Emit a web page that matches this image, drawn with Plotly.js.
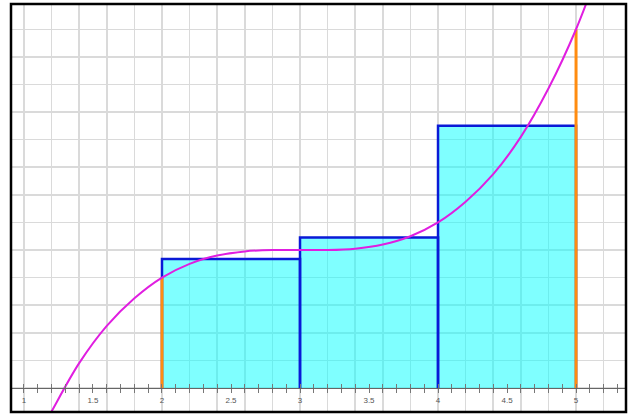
<!DOCTYPE html>
<html>
<head>
<meta charset="utf-8">
<script src="https://cdn.plot.ly/plotly-3.0.1.min.js"></script>
<style>html,body{margin:0;padding:0;background:#fff;}#chart{width:628px;height:415px;}</style>
</head>
<body>
<div id="chart"></div>
<script>
// Curve samples
const curveX = [1.15, 1.2, 1.4, 1.6, 1.8, 2.0, 2.2, 2.4, 2.6, 2.8, 3.0, 3.2, 3.4, 3.6, 3.8, 4.0, 4.2, 4.4, 4.6, 4.8, 5.0, 5.2];
const curveY = [-0.26, -0.17, 0.18, 0.45, 0.65, 0.80, 0.90, 0.96, 0.99, 1.00, 1.00, 1.00, 1.01, 1.04, 1.10, 1.20, 1.35, 1.55, 1.82, 2.17, 2.60, 3.13];
// Riemann rectangles
const rectBreaks = [2, 3, 4, 5];
const rectHeights = [0.935, 1.09, 1.90];
// Endpoint markers (orange) values
const endX = [2, 5];
const endY = [0.80, 2.60];
// Tick labels
const tickValues = [1, 1.5, 2, 2.5, 3, 3.5, 4, 4.5, 5];
const tickLabels = ['1', '1.5', '2', '2.5', '3', '3.5', '4', '4.5', '5'];

const xRange = [0.906, 5.362];
const yRange = [-0.174, 2.783];
const axisPos = (0 - yRange[0]) / (yRange[1] - yRange[0]);

const traces = [];
// fills
for (let i = 0; i < rectHeights.length; i++) {
  const a = rectBreaks[i], b = rectBreaks[i + 1], h = rectHeights[i];
  traces.push({x: [a, a, b, b, a], y: [0, h, h, 0, 0], type: 'scatter', mode: 'lines',
    fill: 'toself', fillcolor: 'rgba(0,255,255,0.5)', line: {width: 0, color: 'rgba(0,0,0,0)'},
    hoverinfo: 'skip', showlegend: false});
}
// outlines
for (let i = 0; i < rectHeights.length; i++) {
  const a = rectBreaks[i], b = rectBreaks[i + 1], h = rectHeights[i];
  traces.push({x: [a, a, b, b], y: [0, h, h, 0], type: 'scatter', mode: 'lines',
    line: {width: 2.5, color: '#0a1ad6'}, hoverinfo: 'skip', showlegend: false});
}
// orange endpoint lines
for (let i = 0; i < endX.length; i++) {
  traces.push({x: [endX[i], endX[i]], y: [0, endY[i]], type: 'scatter', mode: 'lines',
    line: {width: 3, color: '#ff8c10'}, hoverinfo: 'skip', showlegend: false});
}
// curve
traces.push({x: curveX, y: curveY, type: 'scatter', mode: 'lines',
  line: {width: 2, color: '#e01ee0', shape: 'spline', smoothing: 1}, hoverinfo: 'skip', showlegend: false});

const gridCol = '#dadada';
const tickCol = '#777777';
const layout = {
  width: 628, height: 415,
  margin: {l: 11, r: 2, t: 4, b: 3, pad: 0},
  paper_bgcolor: '#ffffff', plot_bgcolor: '#ffffff',
  showlegend: false,
  xaxis: {range: xRange, showgrid: true, gridcolor: gridCol, gridwidth: 1.5, dtick: 0.2, tick0: 0,
    showticklabels: false, ticks: '', zeroline: false, showline: false, fixedrange: true},
  yaxis: {range: yRange, showgrid: true, gridcolor: gridCol, gridwidth: 1.5, dtick: 0.2, tick0: 0,
    showticklabels: false, ticks: '', zeroline: false, showline: false, fixedrange: true},
  xaxis2: {range: xRange, overlaying: 'x', anchor: 'free', position: axisPos, side: 'bottom',
    showgrid: false, zeroline: false, showline: true, linecolor: '#666666', linewidth: 1,
    tickmode: 'array', tickvals: tickValues, ticktext: tickLabels,
    ticks: 'outside', ticklen: 4, tickcolor: tickCol, tickwidth: 1,
    minor: {dtick: 0.1, tick0: 0, ticks: 'outside', ticklen: 4, tickcolor: tickCol, tickwidth: 1, showgrid: false},
    tickfont: {family: 'Liberation Sans, Arial, sans-serif', size: 8, color: '#555555'}, fixedrange: true},
  xaxis3: {range: xRange, overlaying: 'x', anchor: 'free', position: axisPos, side: 'top',
    showgrid: false, zeroline: false, showline: false, showticklabels: false,
    tickmode: 'array', tickvals: tickValues,
    ticks: 'outside', ticklen: 4, tickcolor: tickCol, tickwidth: 1,
    minor: {dtick: 0.1, tick0: 0, ticks: 'outside', ticklen: 4, tickcolor: tickCol, tickwidth: 1, showgrid: false},
    fixedrange: true},
  shapes: [{type: 'rect', xref: 'paper', yref: 'paper', x0: 0, x1: 1, y0: 0, y1: 1,
    line: {color: '#000000', width: 2.5}, layer: 'above'}]
};
// dummy traces so overlay axes render
traces.push({x: [xRange[0]], y: [yRange[0]], xaxis: 'x2', type: 'scatter', mode: 'markers', marker: {opacity: 0}, hoverinfo: 'skip', showlegend: false});
traces.push({x: [xRange[0]], y: [yRange[0]], xaxis: 'x3', type: 'scatter', mode: 'markers', marker: {opacity: 0}, hoverinfo: 'skip', showlegend: false});

Plotly.newPlot('chart', traces, layout, {displayModeBar: false, staticPlot: true});
</script>
</body>
</html>
